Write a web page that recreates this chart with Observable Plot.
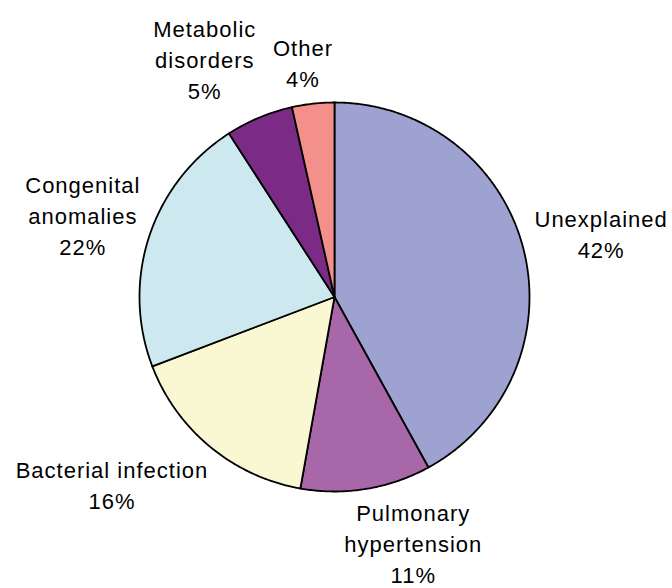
<!DOCTYPE html>
<html>
<head>
<meta charset="utf-8">
<script src="https://cdn.jsdelivr.net/npm/d3@7"></script>
<script src="https://cdn.jsdelivr.net/npm/@observablehq/plot@0.6"></script>
<style>
  html, body { margin: 0; padding: 0; background: #fff; }
</style>
</head>
<body>
<div id="chart"></div>
<script>
// Data (clockwise from 12 o'clock)
const categories = ["Unexplained", "Pulmonary hypertension", "Bacterial infection", "Congenital anomalies", "Metabolic disorders", "Other"];
const shares = [42.0, 10.8, 16.4, 21.7, 5.6, 3.5];
const percentLabels = ["42%", "11%", "16%", "22%", "5%", "4%"];
const labelLines = ["Unexplained", "Pulmonary\nhypertension", "Bacterial infection", "Congenital\nanomalies", "Metabolic\ndisorders", "Other"];
const colors = ["#9da2d1", "#a867a9", "#faf8d3", "#cde8ef", "#7b2a86", "#f4908b"];

// Label nudges in pixels (layout only)
const labelNudge = [[6, 2], [35, -20], [-51, -20], [4, 1], [-26, 9], [-2, 31]];

const table = categories.map((c, i) => ({category: c, value: shares[i], label: labelLines[i] + "\n" + percentLabels[i], i}));
const arcs = d3.pie().sort(null).value(d => d.value)(table);

// Slice outlines in unit coordinates (x = sin, y = cos, clockwise from top)
const slicePoints = [];
for (const a of arcs) {
  const n = Math.max(2, Math.ceil((a.endAngle - a.startAngle) / (Math.PI / 360)));
  slicePoints.push({category: a.data.category, x: 0, y: 0});
  for (let k = 0; k <= n; k++) {
    const t = a.startAngle + (a.endAngle - a.startAngle) * k / n;
    slicePoints.push({category: a.data.category, x: Math.sin(t), y: Math.cos(t)});
  }
  slicePoints.push({category: a.data.category, x: 0, y: 0});
}

const labelR = 1.38;
const labelMarks = arcs.map((a, i) => {
  const mid = (a.startAngle + a.endAngle) / 2;
  return Plot.text([{x: labelR * Math.sin(mid), y: labelR * Math.cos(mid), text: a.data.label}], {
    x: "x", y: "y", text: "text",
    textAnchor: "middle", lineAnchor: "middle", lineHeight: 1.41,
    fontSize: 22, fill: "#000",
    dx: labelNudge[i][0], dy: labelNudge[i][1]
  });
});

const chart = Plot.plot({
  width: 672,
  height: 588,
  margin: 0,
  x: {domain: [-1, 1], range: [139, 529], axis: null},
  y: {domain: [-1, 1], range: [491, 102], axis: null},
  color: {domain: categories, range: colors},
  style: {fontFamily: "'Liberation Sans', Arial, sans-serif", letterSpacing: "1px", background: "#fff"},
  marks: [
    Plot.line(slicePoints, {x: "x", y: "y", z: "category", fill: "category", stroke: "#000", strokeWidth: 1.8, strokeLinejoin: "round", curve: "linear"}),
    ...labelMarks
  ]
});
document.getElementById("chart").appendChild(chart);
</script>
</body>
</html>
